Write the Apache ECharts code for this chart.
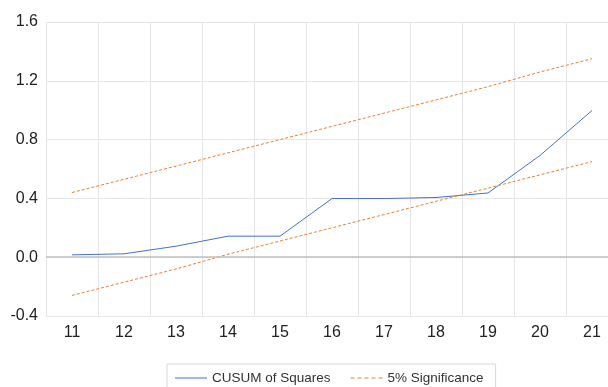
<!DOCTYPE html>
<html>
<head>
<meta charset="utf-8">
<script src="https://cdn.jsdelivr.net/npm/echarts@6/dist/echarts.min.js"></script>
<style>html,body{margin:0;padding:0;background:#fff}#c{width:608px;height:387px}</style>
</head>
<body>
<div id="c"></div>
<script>
var categories = ['11','12','13','14','15','16','17','18','19','20','21'];
var cusum = [0.016, 0.023, 0.075, 0.143, 0.143, 0.399, 0.399, 0.406, 0.437, 0.692, 0.998];
var upper = [0.44, 0.53, 0.62, 0.71, 0.80, 0.89, 0.98, 1.07, 1.16, 1.26, 1.35];
var lower = [-0.26, -0.17, -0.08, 0.02, 0.11, 0.20, 0.29, 0.38, 0.47, 0.56, 0.65];

var chart = echarts.init(document.getElementById('c'));
var font = 'Liberation Sans, Arial, sans-serif';
chart.setOption({
  animation: false,
  textStyle: { fontFamily: font },
  grid: { left: 46, width: 572, top: 22, height: 294, outerBoundsMode: 'none', containLabel: false },
  legend: {
    top: 364, left: 167,
    data: [
      { name: 'CUSUM of Squares', icon: 'path://M0,5 L32,5 L32,6 L0,6 Z' },
      { name: '5% Significance', icon: 'path://M0,5h4v1h-4z M7,5h4v1h-4z M14,5h4v1h-4z M21,5h4v1h-4z M28,5h4v1h-4z' }
    ],
    itemWidth: 32, itemHeight: 10, itemGap: 20,
    padding: [7, 12, 14, 8],
    borderColor: '#d9d9d9', borderWidth: 1,
    textStyle: { fontSize: 13.5, color: '#333', fontFamily: font }
  },
  xAxis: {
    type: 'category', data: categories, boundaryGap: true,
    axisLine: { show: false, onZero: false },
    axisTick: { show: false },
    axisLabel: { fontSize: 16, color: '#222', margin: 9 },
    splitLine: { show: true, lineStyle: { color: '#e6e6e6', width: 1 } }
  },
  yAxis: {
    type: 'value', min: -0.4, max: 1.6, interval: 0.4,
    axisLine: { show: false }, axisTick: { show: false },
    axisLabel: { fontSize: 16, color: '#222', margin: 8, formatter: function (v) { return v.toFixed(1); } },
    splitLine: { lineStyle: { color: '#e6e6e6', width: 1 } }
  },
  series: [
    {
      name: 'CUSUM of Squares', type: 'line', data: cusum, symbol: 'none',
      lineStyle: { color: '#4472C4', width: 1 }, itemStyle: { color: '#4472C4' },
      z: 3,
      markLine: {
        silent: true, symbol: 'none', label: { show: false },
        lineStyle: { color: '#bfbfbf', width: 1.5, type: 'solid' },
        data: [{ yAxis: 0 }]
      }
    },
    {
      name: '5% Significance', type: 'line', data: upper, symbol: 'none',
      lineStyle: { color: '#ED7D31', width: 1, type: [3, 2] }, itemStyle: { color: '#ED7D31' }
    },
    {
      name: '5% Significance', type: 'line', data: lower, symbol: 'none',
      lineStyle: { color: '#ED7D31', width: 1, type: [3, 2] }, itemStyle: { color: '#ED7D31' }
    }
  ]
});
</script>
</body>
</html>
